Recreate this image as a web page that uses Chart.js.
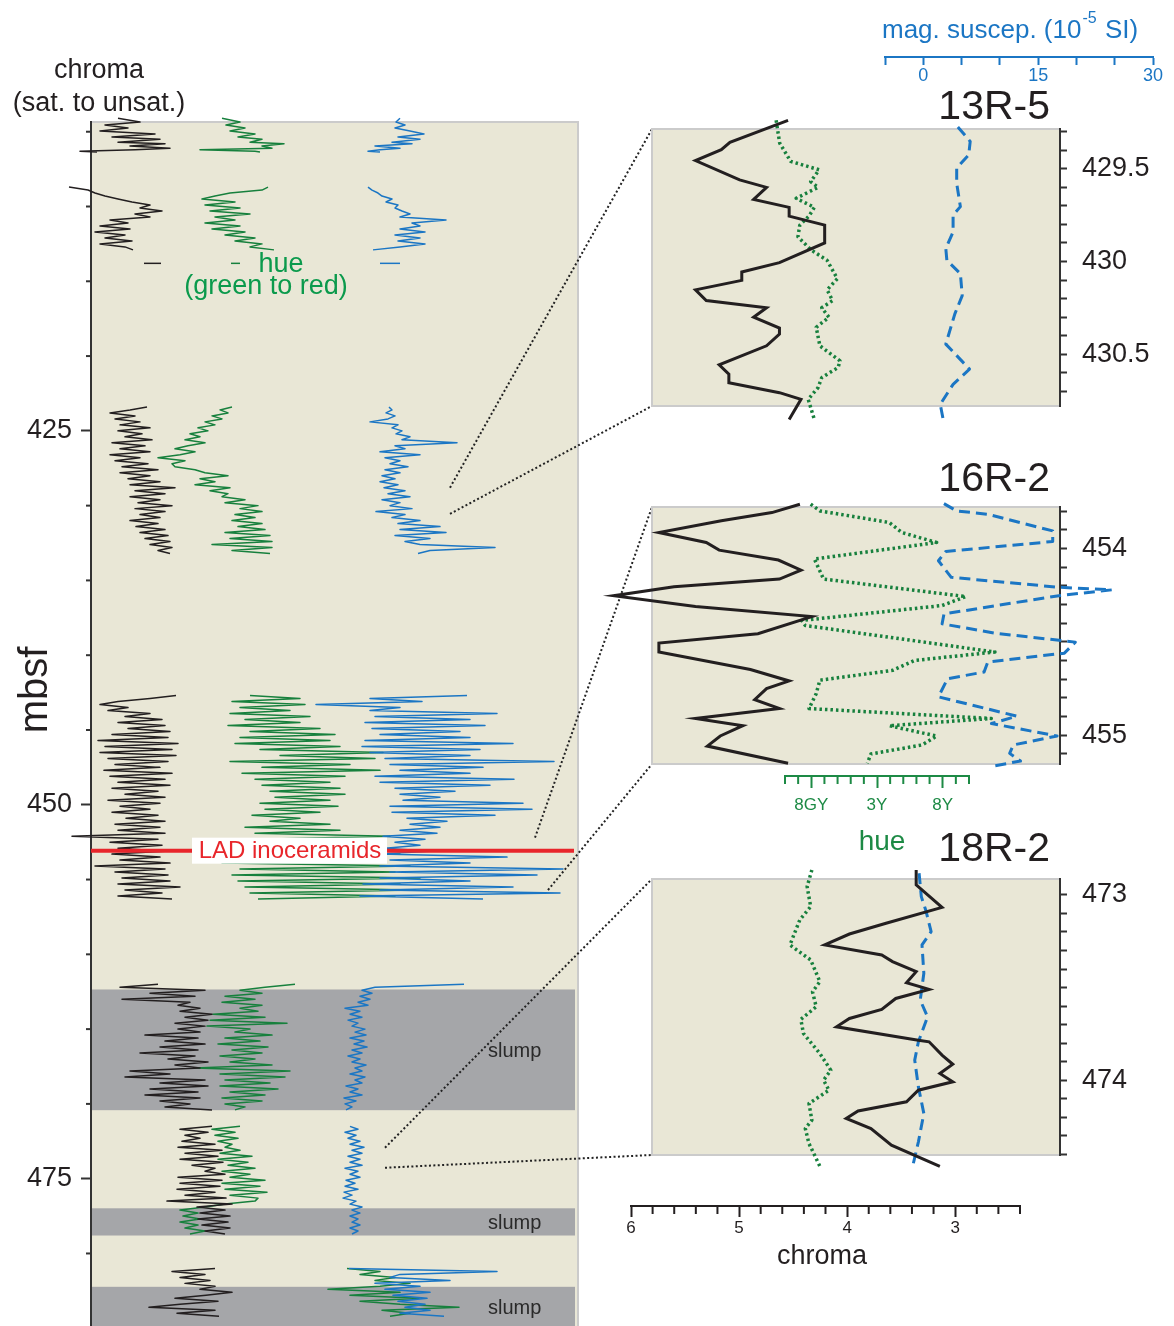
<!DOCTYPE html>
<html><head><meta charset="utf-8">
<script src="https://cdn.jsdelivr.net/npm/chart.js@4.4.1/dist/chart.umd.min.js"></script>
<style>
html,body{margin:0;padding:0;background:#fff;}
#wrap{position:relative;width:1174px;height:1326px;overflow:hidden;background:#fff;}
canvas{position:absolute;}
</style></head><body><div id="wrap">
<canvas id="main" width="1174" height="1326" style="left:0;top:0"></canvas>
<canvas id="inA" width="574" height="330" style="left:600px;top:100px"></canvas>
<canvas id="inB" width="574" height="310" style="left:600px;top:478px"></canvas>
<canvas id="inC" width="574" height="330" style="left:600px;top:850px"></canvas>
<canvas id="axMag" width="314" height="100" style="left:860px;top:0px"></canvas>
<canvas id="axHue" width="240" height="90" style="left:760px;top:740px"></canvas>
<canvas id="axChroma" width="440" height="100" style="left:600px;top:1160px"></canvas>
</div>
<script>
// ---------------- DATA ----------------
// main panel: depth (mbsf) per segment, chroma / hue / magnetic susceptibility
const seg1Depth = [404.1, 404.35, 404.55, 404.75, 404.95, 405.15, 405.35, 405.5, 405.7, 405.8, 405.95, 406.1, 406.2, 406.3, 406.35];
const seg1Chroma = [6.15, 5.05, 6.8, 5.65, 7.05, 4.3, 6.45, 4.05, 6.15, 3.8, 5.55, 3.55, 5.3, 8.05, 7.2];
const seg1Hue = [5.2, 7.0, 5.6, 7.5, 6.0, 8.5, 6.8, 9.2, 8.0, 11.4, 9.2, 10.2, 3.0, 8.5, 9.0];
const seg1Mag = [8, 7.2, 9, 7, 10, 12.8, 7.6, 12, 6.4, 10.4, 3, 8, 4, 1.6, 4];

const seg2Depth = [408.7, 408.9, 409.1, 409.3, 409.5, 409.7, 409.9, 410.1, 410.3, 410.5, 410.7, 410.9, 411.1, 411.3, 411.5, 411.7, 411.9, 412.1, 412.3, 412.5, 412.7, 412.9];
const seg2Chroma = [8.6, 7.65, 7.3, 6.8, 6.15, 5.45, 4.55, 5.05, 3.95, 5.3, 4.55, 6.55, 5.65, 7.05, 5.55, 7.3, 5.8, 6.8, 5.45, 7.05, 5.8, 5.4];
const seg2Hue = [9.8, 9.2, 6.0, 4.5, 3.2, 6.5, 3.5, 7.0, 4.0, 8.0, 4.5, 6.5, 3.5, 7.0, 4.2, 7.5, 5.5, 8.5, 6.5, 9.2, 8.0, 10.4];
const seg2Mag = [1.6, 2.4, 3.6, 4.4, 6.4, 5.2, 7.6, 7.0, 8.4, 10, 8, 17.2, 10.4, 12, 8, 13, 7, 12, 7.6, 13, 8, 2.6];

const dashDepth = [413.8, 413.8];
const dashChroma = [4.85, 4.0];
const dashHue = [6.1, 7.0];
const dashMag = [4, 8];

const seg3Depth = [423.4, 423.6, 423.8, 424.0, 424.2, 424.4, 424.6, 424.8, 425.0, 425.2, 425.4, 425.6, 425.8, 426.0, 426.2, 426.4, 426.6, 426.8, 427.0, 427.2, 427.4, 427.6, 427.8, 428.0, 428.2, 428.4, 428.6, 428.8, 429.0, 429.2, 429.4, 429.6, 429.8, 430.0, 430.2, 430.4, 430.6, 430.8, 431.0, 431.2, 431.4, 431.6, 431.8, 432.0, 432.2, 432.4, 432.6, 432.8, 433.0, 433.2];
const seg3Chroma = [4.7, 5.55, 6.55, 5.3, 6.3, 5.05, 6.05, 4.55, 6.15, 4.95, 5.8, 4.45, 6.45, 4.8, 6.05, 4.55, 6.55, 5.05, 6.3, 4.65, 5.95, 4.15, 6.05, 4.55, 5.65, 4.05, 5.55, 3.3, 5.3, 3.8, 5.55, 4.05, 5.15, 3.45, 5.3, 3.8, 5.05, 4.05, 5.55, 4.15, 5.25, 3.8, 5.05, 3.65, 4.8, 3.55, 4.55, 3.45, 4.15, 3.55];
const seg3Hue = [6.2, 5.0, 5.8, 4.2, 5.2, 3.5, 4.5, 2.8, 3.8, 2.0, 3.0, 1.5, 3.5, 1.8, 0.5, 2.5, 1.0, -1.2, 1.5, 0.2, 0.5, 2.5, 3.5, 5.8, 3.0, 4.5, 2.5, 6.0, 4.0, 5.8, 5.2, 7.5, 5.5, 8.8, 7.0, 9.2, 6.5, 8.5, 6.2, 9.2, 6.8, 9.5, 5.5, 10.0, 6.0, 10.2, 4.2, 10.2, 6.2, 10.0];
const seg3Mag = [5.8, 6.4, 5.2, 7.0, 5.6, 2.0, 7.6, 6.4, 8.4, 7.2, 10.0, 8.4, 19.4, 7.0, 9.0, 4.0, 12.0, 5.0, 8.0, 6.0, 9.6, 5.0, 8.0, 4.4, 7.0, 4.0, 7.6, 4.8, 9.0, 5.6, 10.0, 4.4, 8.0, 6.0, 10.4, 3.2, 9.0, 6.4, 12.0, 7.6, 16.0, 8.0, 17.2, 7.0, 14.0, 9.0, 12.0, 27.0, 14.0, 11.6];

const seg4Depth = [442.7, 442.9, 443.1, 443.3, 443.5, 443.7, 443.9, 444.1, 444.3, 444.5, 444.7, 444.9, 445.1, 445.3, 445.5, 445.7, 445.9, 446.1, 446.3, 446.5, 446.7, 446.9, 447.1, 447.3, 447.5, 447.7, 447.9, 448.1, 448.3, 448.5, 448.7, 448.9, 449.1, 449.3, 449.5, 449.7, 449.9, 450.1, 450.3, 450.5, 450.7, 450.9, 451.1, 451.3, 451.5, 451.7, 451.9, 452.1, 452.3, 452.5, 452.7, 452.9, 453.1, 453.3, 453.5, 453.7, 453.9, 454.1, 454.3, 454.5, 454.7, 454.9, 455.1, 455.3, 455.5, 455.7, 455.9, 456.1, 456.3];
const seg4Chroma = [3.25, 4.55, 6.15, 7.05, 5.65, 6.65, 4.55, 5.8, 3.95, 6.15, 3.8, 5.65, 3.55, 6.45, 3.65, 7.15, 3.15, 6.8, 3.45, 7.05, 3.25, 6.65, 3.65, 6.3, 4.05, 6.85, 3.45, 6.55, 3.8, 6.15, 3.55, 6.45, 4.15, 5.8, 3.8, 6.65, 4.05, 6.05, 4.55, 6.45, 4.15, 5.75, 3.8, 6.3, 4.05, 6.15, 3.8, 8.45, 4.15, 6.55, 3.95, 6.15, 3.8, 6.45, 4.05, 6.05, 3.55, 7.3, 3.8, 6.3, 3.65, 5.95, 3.55, 6.15, 3.05, 5.8, 3.95, 6.15, 3.45];
const seg4Hue = [8.0, 13.0, 6.2, 13.5, 7.0, 12.0, 6.0, 14.0, 7.5, 13.0, 5.8, 15.0, 8.0, 16.5, 7.0, 16.0, 6.5, 17.0, 9.0, 21.3, 11.0, 20.5, 6.0, 18.0, 9.2, 21.0, 7.2, 17.5, 8.5, 16.0, 9.2, 17.0, 10.0, 17.5, 10.5, 16.0, 9.0, 16.8, 9.5, 15.0, 8.2, 13.0, 10.0, 16.0, 7.5, 17.0, 8.5, 22.0, 9.0, 17.5, 7.0, 21.0, 6.6, 23.0, 6.0, 21.5, 5.2, 24.0, 7.0, 22.5, 6.2, 25.0, 6.8, 23.0, 7.5, 24.5, 8.0, 22.5, 8.8];
const seg4Mag = [21.4, 2.0, 12.4, -8.8, 8.0, 2.0, 27.4, 3.0, 22.0, 1.0, 25.0, 2.4, 20.0, 4.0, 22.0, 1.0, 30.6, 0.4, 24.0, 2.0, 22.0, 5.0, 38.8, 6.0, 24.6, 8.0, 22.0, 3.0, 30.8, 4.0, 26.0, 7.0, 19.0, 8.0, 16.0, 8.6, 32.6, 6.0, 34.4, 6.4, 27.0, 9.4, 17.4, 10.0, 16.0, 8.0, 15.4, 4.6, 13.0, 7.0, 12.0, 5.0, 14.0, 4.0, 29.4, 6.0, 22.0, 4.0, 40.6, 6.0, 35.4, 4.0, 22.0, 0.6, 30.6, 4.0, 40.0, 0.0, 24.6];

const seg5Depth = [462.0, 462.2, 462.4, 462.6, 462.8, 463.0, 463.2, 463.4, 463.6, 463.8, 464.0, 464.2, 464.4, 464.6, 464.8, 465.0, 465.2, 465.4, 465.6, 465.8, 466.0, 466.2, 466.4, 466.6, 466.8, 467.0, 467.2, 467.4, 467.6, 467.8, 468.0, 468.2, 468.4, 468.6, 468.8, 469.0, 469.2, 469.4, 469.6, 469.8, 470.0, 470.2, 470.4];
const seg5Chroma = [4.15, 6.05, 1.8, 4.55, 2.3, 5.95, 2.55, 3.15, 2.05, 3.05, 1.45, 2.8, 1.65, 3.3, 1.8, 3.15, 2.05, 4.8, 2.15, 3.8, 1.8, 4.05, 2.15, 5.05, 2.3, 3.65, 1.65, 3.3, 2.05, 5.55, 3.55, 5.8, 1.8, 4.05, 1.65, 4.55, 2.15, 4.8, 2.05, 4.05, 2.55, 3.8, 1.45];
const seg5Hue = [12.5, 9.5, 7.0, 9.2, 5.5, 8.5, 5.2, 9.2, 7.0, 8.8, 4.3, 9.5, 4.0, 11.7, 3.7, 8.0, 6.5, 10.2, 5.5, 9.0, 4.8, 9.8, 6.2, 9.2, 5.0, 8.5, 6.0, 10.2, 2.5, 12.0, 5.0, 11.5, 5.5, 10.0, 5.0, 10.8, 6.0, 9.5, 5.2, 9.2, 5.5, 7.5, 6.5];
const seg5Mag = [20.8, 3.0, 0.4, 2.4, 0.0, 2.0, -0.4, 1.6, -3.0, 0.0, -2.0, 0.4, -2.4, -0.4, -1.6, 1.0, -1.0, 1.2, -2.0, 0.8, -1.2, 1.4, -1.6, 0.4, -2.4, 0.0, -1.6, 1.2, -1.0, 0.4, -2.0, 1.0, -1.0, 0.4, -2.8, -0.4, -2.0, 0.4, -3.2, -0.8, -3.0, -1.6, -2.8];

const seg6Depth = [471.5, 471.7, 471.9, 472.1, 472.3, 472.5, 472.7, 472.9, 473.1, 473.3, 473.5, 473.7, 473.9, 474.1, 474.3, 474.5, 474.7, 474.9, 475.1, 475.3, 475.5, 475.7, 475.9, 476.1, 476.3, 476.5, 476.7, 476.9, 477.1, 477.3, 477.5, 477.7, 477.9, 478.1, 478.3, 478.5, 478.7];
const seg6Chroma = [1.45, 3.05, 1.65, 2.8, 2.05, 2.95, 1.3, 3.15, 0.95, 2.8, 1.15, 3.05, 0.9, 2.45, 1.3, 1.8, 0.8, 3.15, 0.95, 3.05, 1.05, 3.2, 1.3, 2.8, 0.75, 3.7, 0.45, 2.2, 0.8, 2.05, 0.55, 2.15, 0.65, 1.95, 0.55, 1.8, 0.8];
const seg6Hue = [7.0, 4.2, 6.5, 4.5, 6.8, 4.8, 6.2, 5.5, 7.0, 5.0, 8.2, 4.8, 7.8, 5.8, 8.5, 5.2, 8.0, 6.0, 9.5, 5.2, 9.0, 5.5, 9.7, 6.0, 8.8, 8.5, 5.5, 3.5, 1.0, 2.8, 1.3, 3.0, 1.0, 2.8, 1.5, 3.5, 2.0];
const seg6Mag = [-2.0, -0.4, -3.0, -0.8, -2.4, 0.0, -2.0, 0.8, -1.6, 0.4, -2.4, 0.0, -2.0, 0.4, -3.0, -0.4, -2.0, 0.0, -2.8, -1.0, -3.0, -0.4, -3.2, -1.6, -3.4, -0.8, -2.0, 0.4, -1.6, 0.0, -2.0, -0.4, -1.6, 0.0, -2.0, -0.4, -1.6];

const seg7Depth = [481.0, 481.2, 481.4, 481.6, 481.8, 482.0, 482.2, 482.4, 482.6, 482.8, 483.0, 483.2, 483.4, 483.6, 483.8, 484.0, 484.2];
const seg7Chroma = [1.3, 3.45, 1.8, 3.05, 1.55, 2.8, 1.3, 2.05, 0.45, 1.75, 3.3, 1.15, 3.05, 4.6, 1.3, 3.2, 1.1];
const seg7Hue = [17.7, 21.0, 19.0, 22.5, 20.5, 24.0, 21.0, 15.8, 23.0, 18.0, 24.9, 19.0, 23.0, 28.9, 21.2, 24.0, 22.0];
const seg7Mag = [-2.2, 27.4, 8.0, 6.0, 18.0, 3.0, 12.0, 5.0, 14.0, 6.6, 13.4, 7.6, 13.0, 9.0, 14.0, 8.0, 16.8];

// intervals
const mainDepthRange = [404.35, 484.85];
const slumpTop = [462.35, 476.98, 482.23];
const slumpBottom = [470.42, 478.8, 485.5];
const ladDepth = 453.07;
const mainTickLabels = [425, 450, 475];

// inset close-ups: 13R-5, 16R-2, 18R-2
const insetNames = ['13R-5', '16R-2', '18R-2'];
const insetTop = [429.285, 453.778, 472.914];
const insetBottom = [430.78, 455.155, 474.404];
const insetLabelStep = [0.5, 1, 1];

const r13ChromaDepth = [429.238, 429.357, 429.397, 429.455, 429.56, 429.6, 429.665, 429.708, 429.755, 429.804, 429.9, 430.006, 430.057, 430.102, 430.153, 430.211, 430.25, 430.301, 430.359, 430.392, 430.455, 430.558, 430.608, 430.654, 430.708, 430.744, 430.853];
const r13Chroma = [4.55, 5.09, 5.17, 5.41, 5.0, 4.75, 4.87, 4.54, 4.54, 4.21, 4.21, 4.63, 4.98, 4.98, 5.41, 5.31, 4.75, 4.87, 4.63, 4.63, 4.75, 5.19, 5.1, 5.1, 4.63, 4.43, 4.54];
const r13HueDepth = [429.238, 429.361, 429.46, 429.505, 429.569, 429.6, 429.659, 429.708, 429.755, 429.804, 429.867, 429.936, 429.994, 430.093, 430.153, 430.211, 430.25, 430.301, 430.355, 430.455, 430.536, 430.572, 430.627, 430.681, 430.744, 430.853];
const r13Hue = [-2.69, -2.42, -1.58, 0.58, -0.06, 0.5, -1.17, 0.22, -0.19, -0.89, -1.03, -0.06, 1.19, 1.97, 1.19, 1.61, 0.78, 1.33, 0.36, 0.64, 2.17, 2.03, 0.78, 0.5, -0.25, 0.22];
const r13MagDepth = [429.274, 429.352, 429.424, 429.496, 429.578, 429.704, 429.75, 429.84, 429.93, 429.994, 430.066, 430.184, 430.283, 430.446, 430.581, 430.663, 430.771, 430.853];
const r13Mag = [4.57, 6.18, 5.99, 4.42, 4.42, 4.9, 3.95, 3.95, 3.0, 3.14, 4.9, 5.14, 4.18, 3.0, 6.09, 3.95, 2.28, 2.66];

const r16ChromaDepth = [453.763, 453.808, 453.852, 453.915, 453.968, 454.009, 454.062, 454.116, 454.164, 454.205, 454.253, 454.311, 454.365, 454.457, 454.507, 454.555, 454.649, 454.71, 454.751, 454.81, 454.858, 454.911, 454.95, 455.005, 455.059, 455.151];
const r16Chroma = [4.44, 4.7, 5.17, 5.75, 5.31, 5.19, 4.64, 4.43, 4.63, 5.61, 6.17, 5.41, 4.33, 4.83, 5.75, 5.75, 4.9, 4.54, 4.75, 4.86, 4.63, 5.41, 4.97, 5.18, 5.3, 4.55];
const r16HueDepth = [453.763, 453.799, 453.861, 453.915, 453.968, 454.057, 454.164, 454.258, 454.306, 454.386, 454.413, 454.555, 454.6, 454.653, 454.706, 454.778, 454.858, 454.911, 454.95, 455.005, 455.053, 455.101, 455.151];
const r16Hue = [-0.06, 0.64, 5.92, 6.89, 9.53, 0.22, 0.92, 11.75, 9.94, -0.75, -0.47, 13.97, 7.86, 6.19, 0.64, 0.36, -0.19, 13.69, 5.92, 9.53, 8.42, 4.53, 4.25];
const r16MagDepth = [453.76, 453.799, 453.817, 453.906, 453.963, 454.016, 454.066, 454.155, 454.208, 454.222, 454.253, 454.351, 454.404, 454.454, 454.502, 454.561, 454.609, 454.662, 454.698, 454.795, 454.899, 454.938, 455.005, 455.053, 455.098, 455.139, 455.165];
const r16Mag = [2.76, 4.42, 8.46, 16.93, 16.93, 3.0, 2.04, 3.71, 17.74, 24.63, 17.74, 2.76, 2.52, 9.42, 19.88, 18.45, 8.46, 7.99, 3.23, 2.04, 12.27, 8.94, 17.5, 11.79, 11.32, 12.74, 9.32];

const r18ChromaDepth = [472.865, 472.946, 473.067, 473.153, 473.211, 473.27, 473.324, 473.36, 473.414, 473.474, 473.51, 473.559, 473.618, 473.667, 473.712, 473.784, 473.793, 473.865, 473.914, 473.964, 474.009, 474.054, 474.117, 474.166, 474.207, 474.261, 474.351, 474.465];
const r18Chroma = [3.36, 3.36, 3.12, 3.64, 3.98, 4.21, 3.68, 3.58, 3.36, 3.45, 3.24, 3.55, 3.68, 3.98, 4.1, 3.34, 3.24, 3.12, 3.02, 3.14, 3.02, 3.34, 3.45, 3.9, 4.01, 3.78, 3.59, 3.14];
const r18HueDepth = [472.865, 472.955, 473.063, 473.135, 473.27, 473.351, 473.468, 473.523, 473.604, 473.672, 473.748, 473.856, 473.946, 474.0, 474.054, 474.126, 474.216, 474.261, 474.342, 474.465];
const r18Hue = [0.03, -0.33, -0.06, -0.89, -1.64, -0.06, 0.64, 0.08, 0.36, -0.81, -0.61, 0.64, 1.47, 0.92, 1.33, -0.19, 0.03, -0.47, -0.19, 0.64];
const r18MagDepth = [472.883, 473.009, 473.081, 473.198, 473.27, 473.423, 473.568, 473.658, 473.793, 473.892, 474.036, 474.18, 474.333, 474.459];
const r18Mag = [-0.48, -0.19, 0.38, 1.09, -0.1, 0.14, -0.33, 0.62, -0.57, -1.05, -0.57, 0.14, -0.57, -1.28];

// shared scale ranges / tick labels
const insetChromaRange = [2.024, 5.814];
const insetHueRange = [-12.14, 18.92];
const insetMagRange = [-35.28, 17.88];
const chromaAxisRange = [2.4, 6];
const hueAxisRange = [-2, 12];
const hueTickValues = [0, 5, 10];
const hueTickNames = ['8GY', '3Y', '8Y'];
const magAxisRange = [-5, 30];
const magTickLabels = [0, 15, 30];

// connector anchors in the main panel (depth, mag-susc. position)
const connDepthTop = [428.8, 452.2, 472.93];
const connDepthBottom = [430.55, 455.7, 474.27];
const connMagTop = [18, 35, 5];
const connMagBottom = [18, 37.6, 5];

// ---------------- STYLE ----------------
const FONT = "'Liberation Sans', Arial, Helvetica, sans-serif";
Chart.defaults.font.family = FONT;
Chart.defaults.color = '#231f20';
const C_BLACK = '#231f20', C_GREEN = '#17803d', C_BLUE = '#1b76c4', C_TGREEN = '#0b9a4c', C_RED = '#e8262b';
const BEIGE = '#e9e7d6', SLUMP = '#a5a6a9', FRAME = '#cbcbcb';

function pts(depth, vals) { return depth.map((d, i) => ({ x: vals[i], y: d })); }
function lineDs(data, axis, color, width, dash, join) {
  return { data, xAxisID: axis, yAxisID: 'y', showLine: true, borderColor: color, backgroundColor: color,
    borderWidth: width, borderDash: dash || [], borderJoinStyle: join || 'round', borderCapStyle: 'butt',
    pointRadius: 0, pointHoverRadius: 0, fill: false, tension: 0, clip: false, spanGaps: false };
}
function near(v, step) { return Math.abs(v / step - Math.round(v / step)) < 1e-6; }
function txt(ctx, s, x, y, size, color, align, rot) {
  ctx.save(); ctx.font = size + 'px ' + FONT; ctx.fillStyle = color;
  ctx.textAlign = align || 'center'; ctx.textBaseline = 'middle';
  ctx.translate(x, y); if (rot) ctx.rotate(rot); ctx.fillText(s, 0, 0); ctx.restore();
}
const baseOpts = { responsive: false, animation: false, devicePixelRatio: 1, events: [],
  plugins: { legend: { display: false }, tooltip: { enabled: false }, title: { display: false } } };

// ---------------- INSETS ----------------
const insetBg = {
  id: 'insetBg',
  beforeDraw(chart) {
    const { ctx, chartArea: a } = chart;
    ctx.save();
    ctx.fillStyle = BEIGE; ctx.fillRect(a.left, a.top, a.right - a.left, a.bottom - a.top);
    ctx.strokeStyle = FRAME; ctx.lineWidth = 2;
    ctx.beginPath(); ctx.moveTo(a.right, a.top); ctx.lineTo(a.left, a.top); ctx.lineTo(a.left, a.bottom); ctx.lineTo(a.right, a.bottom); ctx.stroke();
    ctx.restore();
  }
};
const insetSeries = [
  [r13ChromaDepth, r13Chroma, r13HueDepth, r13Hue, r13MagDepth, r13Mag],
  [r16ChromaDepth, r16Chroma, r16HueDepth, r16Hue, r16MagDepth, r16Mag],
  [r18ChromaDepth, r18Chroma, r18HueDepth, r18Hue, r18MagDepth, r18Mag]
];
const insetIds = ['inA', 'inB', 'inC'];
const insetPadBottom = [24, 24, 25];
const insetCharts = insetIds.map((id, k) => {
  const s = insetSeries[k];
  return new Chart(document.getElementById(id), {
    type: 'scatter',
    data: { datasets: [
      lineDs(pts(s[0], s[1]), 'xc', C_BLACK, 3, [], 'miter'),
      lineDs(pts(s[4], s[5]), 'xm', C_BLUE, 3, [11, 6]),
      lineDs(pts(s[2], s[3]), 'xh', C_GREEN, 3.5, [2.5, 3])
    ] },
    options: Object.assign({}, baseOpts, {
      layout: { padding: { left: 52, top: 29, right: 0, bottom: insetPadBottom[k] } },
      scales: {
        x: { display: false },
        xc: { type: 'linear', display: false, reverse: true, min: insetChromaRange[0], max: insetChromaRange[1] },
        xh: { type: 'linear', display: false, min: insetHueRange[0], max: insetHueRange[1] },
        xm: { type: 'linear', display: false, min: insetMagRange[0], max: insetMagRange[1] },
        y: { type: 'linear', position: 'right', reverse: true, min: insetTop[k], max: insetBottom[k],
          ticks: { stepSize: 0.1, includeBounds: false, autoSkip: false, padding: 15, color: '#231f20', font: { size: 27 },
            callback: (v) => near(v, insetLabelStep[k]) ? String(Number(v.toFixed(1))) : '' },
          grid: { drawOnChartArea: false, drawTicks: true, tickLength: 7, tickWidth: 2, tickColor: '#333' },
          border: { display: true, color: '#333', width: 2 },
          afterFit: (sc) => { sc.width = 114; sc.paddingTop = 0; sc.paddingBottom = 0; } }
      }
    }),
    plugins: [insetBg]
  });
});

// ---------------- AXIS STRIPS ----------------
function makeAxis(id, o) {
  const minor = {
    id: 'minor_' + id,
    afterDraw(chart) {
      const sc = chart.scales.x, ctx = chart.ctx;
      ctx.save(); ctx.strokeStyle = o.color; ctx.lineWidth = 2;
      sc.ticks.forEach(t => {
        if (o.isMajor(t.value)) return;
        const px = sc.getPixelForValue(t.value);
        ctx.beginPath(); ctx.moveTo(px, sc.top); ctx.lineTo(px, sc.top + o.minorLen); ctx.stroke();
      });
      ctx.restore();
    }
  };
  return new Chart(document.getElementById(id), {
    type: 'scatter', data: { datasets: [] },
    options: Object.assign({}, baseOpts, {
      layout: { padding: { left: o.padL, right: o.padR, top: o.padT, bottom: 0 } },
      scales: {
        y: { display: false },
        x: { type: 'linear', position: 'bottom', reverse: !!o.reverse, min: o.range[0], max: o.range[1],
          ticks: { stepSize: o.step, autoSkip: false, maxRotation: 0, minRotation: 0, padding: o.pad, color: o.color,
            font: { size: o.fontSize }, callback: o.label },
          grid: { drawOnChartArea: false, drawTicks: true, tickLength: o.majorLen, tickWidth: 2,
            tickColor: (c) => (c.tick && o.isMajor(c.tick.value)) ? o.color : 'rgba(0,0,0,0)' },
          border: { display: true, color: o.color, width: 2 },
          afterFit: (sc) => { sc.height = o.height; sc.paddingLeft = 0; sc.paddingRight = 0; } }
      }
    }),
    plugins: [minor]
  });
}
makeAxis('axMag', { padL: 25, padR: 21, padT: 50, height: 43, range: magAxisRange, step: 5, pad: 0, color: C_BLUE,
  fontSize: 18, majorLen: 8, minorLen: 8, isMajor: () => true,
  label: (v) => magTickLabels.some(m => Math.abs(m - v) < 1e-6) ? String(Math.round(v)) : '' });
makeAxis('axHue', { padL: 25, padR: 31, padT: 30, height: 54, range: hueAxisRange, step: 1, pad: 7, color: '#1d8a45',
  fontSize: 17, majorLen: 12, minorLen: 8, isMajor: (v) => hueTickValues.some(m => Math.abs(m - v) < 1e-6),
  label: (v) => { const i = hueTickValues.findIndex(m => Math.abs(m - v) < 1e-6); return i >= 0 ? hueTickNames[i] : ''; } });
makeAxis('axChroma', { padL: 31, padR: 20, padT: 40, height: 54, range: chromaAxisRange, step: 0.2, pad: 1, reverse: true,
  color: '#231f20', fontSize: 17, majorLen: 11, minorLen: 8, isMajor: (v) => near(v, 1),
  label: (v) => near(v, 1) ? String(Math.round(v)) : '' });

// ---------------- MAIN PANEL ----------------
const segs = [
  [seg1Depth, seg1Chroma, seg1Hue, seg1Mag],
  [seg2Depth, seg2Chroma, seg2Hue, seg2Mag],
  [dashDepth, dashChroma, dashHue, dashMag],
  [seg3Depth, seg3Chroma, seg3Hue, seg3Mag],
  [seg4Depth, seg4Chroma, seg4Hue, seg4Mag],
  [seg5Depth, seg5Chroma, seg5Hue, seg5Mag],
  [seg6Depth, seg6Chroma, seg6Hue, seg6Mag],
  [seg7Depth, seg7Chroma, seg7Hue, seg7Mag]
];
const mainSets = [];
segs.forEach(s => mainSets.push(lineDs(pts(s[0], s[1]), 'xc', C_BLACK, 1.5)));
segs.forEach(s => mainSets.push(lineDs(pts(s[0], s[3]), 'xm', C_BLUE, 1.5)));
segs.forEach(s => mainSets.push(lineDs(pts(s[0], s[2]), 'xh', C_GREEN, 1.5)));

const mainDeco = {
  id: 'mainDeco',
  beforeDraw(chart) {
    const { ctx, chartArea: a, scales: { y } } = chart;
    ctx.save();
    ctx.fillStyle = BEIGE; ctx.fillRect(a.left, a.top, a.right - a.left, a.bottom - a.top);
    ctx.fillStyle = SLUMP;
    slumpTop.forEach((t, i) => {
      const y0 = y.getPixelForValue(t), y1 = Math.min(y.getPixelForValue(slumpBottom[i]), a.bottom);
      ctx.fillRect(a.left, y0, a.right - a.left - 3, y1 - y0);
    });
    ctx.strokeStyle = FRAME; ctx.lineWidth = 2;
    ctx.beginPath(); ctx.moveTo(a.left, a.top); ctx.lineTo(a.right, a.top); ctx.lineTo(a.right, a.bottom); ctx.stroke();
    ctx.restore();
  },
  afterDatasetsDraw(chart) {
    const { ctx, chartArea: a, scales: { y } } = chart;
    ctx.save();
    // LAD line
    const yl = y.getPixelForValue(ladDepth);
    ctx.strokeStyle = C_RED; ctx.lineWidth = 4;
    ctx.beginPath(); ctx.moveTo(a.left, yl); ctx.lineTo(a.right - 4, yl); ctx.stroke();
    ctx.fillStyle = '#fff'; ctx.fillRect(192, yl - 13, 195, 26);
    ctx.restore();
    txt(ctx, 'LAD inoceramids', 290, yl + 1, 24, C_RED);
    slumpTop.forEach((t, i) => {
      const y0 = y.getPixelForValue(t), y1 = Math.min(y.getPixelForValue(slumpBottom[i]), a.bottom);
      txt(ctx, 'slump', 488, (y0 + y1) / 2 + 2, 20, '#2a2a2a', 'left');
    });
    // minor depth ticks
    ctx.save(); ctx.strokeStyle = '#333'; ctx.lineWidth = 2;
    y.ticks.forEach(t => {
      if (near(t.value, 25)) return;
      const py = y.getPixelForValue(t.value);
      ctx.beginPath(); ctx.moveTo(a.left - 5, py); ctx.lineTo(a.left, py); ctx.stroke();
    });
    ctx.restore();
  },
  afterDraw(chart) {
    const { ctx, scales: { y, xm } } = chart;
    // connectors
    ctx.save(); ctx.strokeStyle = '#222'; ctx.lineWidth = 2; ctx.setLineDash([2, 2.4]);
    insetCharts.forEach((ic, i) => {
      const cv = ic.canvas, ca = ic.chartArea;
      const ox = cv.offsetLeft, oy = cv.offsetTop;
      ctx.beginPath();
      ctx.moveTo(xm.getPixelForValue(connMagTop[i]), y.getPixelForValue(connDepthTop[i]));
      ctx.lineTo(ox + ca.left, oy + ca.top); ctx.stroke();
      ctx.beginPath();
      ctx.moveTo(xm.getPixelForValue(connMagBottom[i]), y.getPixelForValue(connDepthBottom[i]));
      ctx.lineTo(ox + ca.left, oy + ca.bottom); ctx.stroke();
    });
    ctx.restore();
    // labels
    txt(ctx, 'chroma', 99, 71, 27, '#231f20');
    txt(ctx, '(sat. to unsat.)', 99, 104, 27, '#231f20');
    txt(ctx, 'hue', 281, 265, 27, C_TGREEN);
    txt(ctx, '(green to red)', 266, 287, 27, C_TGREEN);
    txt(ctx, 'mbsf', 36, 690, 40, '#231f20', 'center', -Math.PI / 2);
    const titleY = [108, 480, 850];
    insetNames.forEach((n, i) => txt(ctx, n, 1050, titleY[i], 41, '#231f20', 'right'));
    txt(ctx, 'hue', 882, 842, 28, '#1d8a45');
    txt(ctx, 'chroma', 822, 1257, 27, '#231f20');
    // magnetic susceptibility title with superscript
    ctx.save();
    ctx.fillStyle = C_BLUE; ctx.textBaseline = 'middle'; ctx.textAlign = 'left';
    ctx.font = '26px ' + FONT;
    const p1 = 'mag. suscep. (10';
    let x = 882; ctx.fillText(p1, x, 31); x += ctx.measureText(p1).width + 1;
    ctx.font = '16px ' + FONT; ctx.fillText('-5', x, 19); x += ctx.measureText('-5').width + 1;
    ctx.font = '26px ' + FONT; ctx.fillText(' SI)', x, 31);
    ctx.restore();
  }
};

new Chart(document.getElementById('main'), {
  type: 'scatter',
  data: { datasets: mainSets },
  options: Object.assign({}, baseOpts, {
    layout: { padding: { left: 0, top: 122, right: 596, bottom: 0 } },
    scales: {
      x: { display: false },
      xc: { type: 'linear', display: false, reverse: true, min: -16.85, max: 7.5 },
      xh: { type: 'linear', display: false, min: -7.9, max: 40.8 },
      xm: { type: 'linear', display: false, min: -53.8, max: 43.6 },
      y: { type: 'linear', position: 'left', reverse: true, min: mainDepthRange[0], max: mainDepthRange[1],
        ticks: { stepSize: 5, includeBounds: false, autoSkip: false, padding: 9, color: '#231f20', font: { size: 27 },
          callback: (v) => mainTickLabels.some(m => Math.abs(m - v) < 1e-6) ? String(Math.round(v)) : '' },
        grid: { drawOnChartArea: false, drawTicks: true, tickLength: 10, tickWidth: 2,
          tickColor: (c) => (c.tick && near(c.tick.value, 25)) ? '#333' : 'rgba(0,0,0,0)' },
        border: { display: true, color: '#333', width: 2 },
        afterFit: (sc) => { sc.width = 91; sc.paddingTop = 0; sc.paddingBottom = 0; } }
    }
  }),
  plugins: [mainDeco]
});
</script>
</body></html>
